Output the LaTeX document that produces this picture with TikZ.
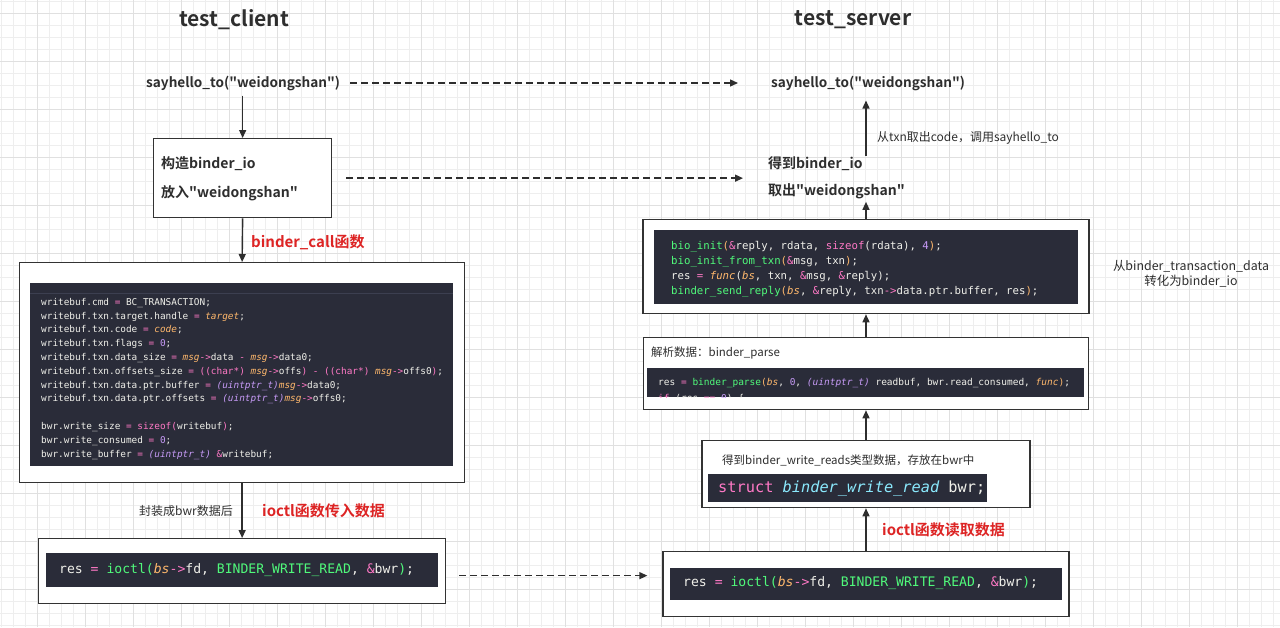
\documentclass[tikz,border=0pt]{standalone}
\usepackage{fontspec}
\setmainfont{Noto Sans CJK SC}[BoldFont={Noto Sans CJK SC Bold}, Ligatures=TeXOff]
\setmonofont{DejaVu Sans Mono}
\usetikzlibrary{arrows.meta,positioning,calc}

\definecolor{txt}{HTML}{2E2E2E}
\definecolor{boxline}{HTML}{333333}
\definecolor{redlab}{HTML}{DD2424}
\definecolor{gridminor}{HTML}{EEEEEE}
\definecolor{gridmajor}{HTML}{E0E0E0}
\definecolor{codebg}{HTML}{2A2C39}
\definecolor{codeline}{HTML}{3C3F50}
\definecolor{cfg}{HTML}{F0F0EA}
\definecolor{cpink}{HTML}{FF79C6}
\definecolor{corange}{HTML}{FFB86C}
\definecolor{cpurple}{HTML}{C79BF7}
\definecolor{ccyan}{HTML}{8BE9FD}
\definecolor{cgreen}{HTML}{50FA7B}

% code colouring
\newcommand\cop[1]{\textcolor{cpink}{#1}}
\newcommand\cvar[1]{\textcolor{corange}{\itshape #1}}
\newcommand\cpar[1]{\textcolor{corange}{#1}}
\newcommand\cnum[1]{\textcolor{cpurple}{#1}}
\newcommand\ccast[1]{\textcolor{cpurple}{\itshape #1}}
\newcommand\ctype[1]{\textcolor{ccyan}{\itshape #1}}
\newcommand\cfn[1]{\textcolor{cgreen}{#1}}

\begin{document}
\begin{tikzpicture}[x=1pt,y=-1pt,
    frame/.style={draw=boxline, line width=1.3pt, fill=white, inner sep=0pt},
    codebox/.style={fill=codebg, inner sep=0pt},
    code/.style={text=cfg, anchor=west, inner sep=0pt, align=left},
    title/.style={text=txt, font=\bfseries\fontsize{21}{24}\selectfont, inner sep=0pt},
    lbl/.style={text=txt, font=\bfseries\fontsize{13.6}{16}\selectfont, anchor=west, inner sep=0pt},
    small/.style={text=txt, font=\fontsize{12}{15}\selectfont, anchor=west, inner sep=0pt},
    redlbl/.style={text=redlab, font=\bfseries\fontsize{15}{18}\selectfont, anchor=west, inner sep=0pt},
    arr/.style={draw=txt, line width=1.4pt, -{Triangle[length=8pt,width=7pt]}},
    dasharr/.style={arr, dash pattern=on 7pt off 4pt}]

    % background and grid
    \fill[white] (0,0) rectangle (1280,627);
    \useasboundingbox (0,0) rectangle (1280,627);
    \foreach \i in {0,...,106} {
        \draw[gridminor, line width=0.7pt] (12*\i+1.5,0) -- (12*\i+1.5,627);
    }
    \foreach \j in {0,...,52} {
        \draw[gridminor, line width=0.7pt] (0,12*\j+1.5) -- (1280,12*\j+1.5);
    }
    \foreach \i in {0,...,26} {
        \draw[gridmajor, line width=0.8pt] (48*\i+37.5,0) -- (48*\i+37.5,627);
    }
    \foreach \j in {0,...,13} {
        \draw[gridmajor, line width=0.8pt] (0,48*\j+13.5) -- (1280,48*\j+13.5);
    }

    % titles
    \node[title] (client) at (234,20) {test\_client};
    \node[title] (server) at (853,20) {test\_server};

    % client side
    \node[lbl] (hellol) at (146,83) {sayhello\_to("weidongshan")};
    \node[frame, anchor=north west, minimum width=178pt, minimum height=79pt] (bio) at (153,138) {};
    \node[lbl, font=\bfseries\fontsize{14}{16}\selectfont] (mkio) at (161,164) {构造binder\_io};
    \node[lbl, font=\bfseries\fontsize{14}{16}\selectfont] (putin) at (161,193) {放入"weidongshan"};

    \node[frame, anchor=north west, minimum width=445pt, minimum height=220pt] (callbox) at (19,262) {};
    \node[codebox, anchor=north west, minimum width=423pt, minimum height=183pt] (callcode) at (30,283) {};
    \draw[codeline, line width=1pt] ([yshift=-10pt]callcode.north west) -- ([yshift=-10pt]callcode.north east);
    \node[code, anchor=north west, font=\ttfamily\fontsize{9.4}{13.8}\selectfont] (calltext) at (41,298) {%
        writebuf.cmd \cop{=} BC\_TRANSACTION;\\
        writebuf.txn.target.handle \cop{=} \cvar{target};\\
        writebuf.txn.code \cop{=} \cvar{code};\\
        writebuf.txn.flags \cop{=} \cnum{0};\\
        writebuf.txn.data\_size \cop{=} \cvar{msg}\cop{->}data \cop{-} \cvar{msg}\cop{->}data0;\\
        writebuf.txn.offsets\_size \cop{=} \cop{((char*)} \cvar{msg}\cop{->}offs\cop{)} \cop{-} \cop{((char*)} \cvar{msg}\cop{->}offs0\cop{)};\\
        writebuf.txn.data.ptr.buffer \cop{=} \ccast{(uintptr\_t)}\cvar{msg}\cop{->}data0;\\
        writebuf.txn.data.ptr.offsets \cop{=} \ccast{(uintptr\_t)}\cvar{msg}\cop{->}offs0;\\
        \mbox{}\\
        bwr.write\_size \cop{=} \cop{sizeof(}writebuf\cop{)};\\
        bwr.write\_consumed \cop{=} \cnum{0};\\
        bwr.write\_buffer \cop{=} \ccast{(uintptr\_t)} \cop{\&}writebuf;};

    \node[frame, anchor=north west, minimum width=407pt, minimum height=65pt] (wrbox) at (38,538) {};
    \node[codebox, anchor=north west, minimum width=392pt, minimum height=34pt] (wrcode) at (46,553) {};
    \node[code, font=\ttfamily\fontsize{13.1}{16}\selectfont] (wrtext) at (59,570)
        {res \cop{=} \cfn{ioctl(}\cvar{bs}\cop{->}fd, \cfn{BINDER\_WRITE\_READ}, \cop{\&}bwr\cfn{)};};

    % server side
    \node[lbl] (hellor) at (771,83) {sayhello\_to("weidongshan")};
    \node[lbl, font=\bfseries\fontsize{14}{16}\selectfont] (getio) at (768,164) {得到binder\_io};
    \node[lbl, font=\bfseries\fontsize{14}{16}\selectfont] (getout) at (768,191) {取出"weidongshan"};
    \node[small] (callhello) at (877,138) {从txn取出code，调用sayhello\_to};

    \node[frame, anchor=north, minimum width=446pt, minimum height=94pt] (sendbox) at (866,219) {};
    \node[codebox, minimum width=424pt, minimum height=74pt] (sendcode) at (sendbox.center) {};
    \node[code, anchor=north west, font=\ttfamily\fontsize{10.7}{15.2}\selectfont] (sendtext) at (671,241) {%
        \cfn{bio\_init}\cpar{(}\cop{\&}reply, rdata, \cop{sizeof}(rdata), \cnum{4}\cpar{)};\\
        \cfn{bio\_init\_from\_txn}\cpar{(}\cop{\&}msg, txn\cpar{)};\\
        res \cop{=} \cvar{func}(\cvar{bs}, txn, \cop{\&}msg, \cop{\&}reply);\\
        \cfn{binder\_send\_reply}\cpar{(}\cvar{bs}, \cop{\&}reply, txn\cop{->}data.ptr.buffer, res\cpar{)};};
    \node[small, font=\fontsize{12.4}{15}\selectfont, align=center, anchor=center] (convert) at (1191,274) {从binder\_transaction\_data\\转化为binder\_io};

    \node[frame, anchor=north, minimum width=445pt, minimum height=72pt] (parsebox) at (866,337) {};
    \node[small, font=\fontsize{11.5}{14}\selectfont] (parselbl) at (651,353) {解析数据：binder\_parse};
    \node[codebox, anchor=north west, minimum width=437pt, minimum height=29pt] (parsecode) at (647,368) {};
    \begin{scope}
        \clip (parsecode.north west) rectangle (parsecode.south east);
        \node[code, font=\ttfamily\fontsize{9.5}{13}\selectfont] (parsetext) at (658,383)
            {res \cop{=} \cfn{binder\_parse}\cpar{(}\cvar{bs}, \cnum{0}, \ccast{(uintptr\_t)} readbuf, bwr.read\_consumed, \cvar{func}\cpar{)};};
        \node[code, font=\ttfamily\fontsize{9.5}{13}\selectfont] (parsenext) at (658,399)
            {\cop{if} (res \cop{==} \cnum{0}) \{};
    \end{scope}

    \node[frame, anchor=north, minimum width=328pt, minimum height=67pt] (readsbox) at (866,440) {};
    \node[small, font=\fontsize{11.5}{14}\selectfont] (readslbl) at (722,460) {得到binder\_write\_reads类型数据，存放在bwr中};
    \node[codebox, anchor=north west, minimum width=279pt, minimum height=28pt] (readscode) at (708,474) {};
    \node[code, font=\ttfamily\fontsize{15.3}{18}\selectfont] (readstext) at (718,488)
        {\cop{struct} \ctype{binder\_write\_read} bwr;};

    \node[frame, anchor=north, minimum width=406pt, minimum height=65pt] (rdbox) at (866,551) {};
    \node[codebox, anchor=north west, minimum width=392pt, minimum height=32pt] (rdcode) at (670,568) {};
    \node[code, font=\ttfamily\fontsize{13.1}{16}\selectfont] (rdtext) at (683,583)
        {res \cop{=} \cfn{ioctl(}\cvar{bs}\cop{->}fd, \cfn{BINDER\_WRITE\_READ}, \cop{\&}bwr\cfn{)};};

    % labels on the arrows
    \node[redlbl] (calllbl) at (251,242) {binder\_call函数};
    \node[small, anchor=east] (packlbl) at (233,511) {封装成bwr数据后};
    \node[redlbl] (sendlbl) at (262,511) {ioctl函数传入数据};
    \node[redlbl] (recvlbl) at (882,530) {ioctl函数读取数据};

    % client arrows
    \draw[arr] ([yshift=-5pt]hellol.south -| bio.north) -- (bio.north);
    \draw[arr] (bio.south) -- (callbox.north);
    \draw[arr] (callbox.south) -- (wrbox.north);

    % dashed arrows across
    \draw[dasharr] ([xshift=10pt]hellol.east) -- ([xshift=-33pt]hellor.west);
    \draw[dasharr] ([xshift=14pt]bio.east) -- ([xshift=-25pt]bio.east -| getio.west);
    \draw[dasharr] ([xshift=13pt,yshift=-4.5pt]wrbox.east) -- ([xshift=-15pt,yshift=8.5pt]rdbox.west);

    % server arrows
    \draw[arr] (rdbox.north) -- (readsbox.south);
    \draw[arr] (readsbox.north) -- (parsebox.south);
    \draw[arr] (parsebox.north) -- (sendbox.south);
    \draw[arr] (sendbox.north) -- ([yshift=-3pt]sendbox.north |- getout.south);
    \draw[arr] ([yshift=1pt]getio.north -| sendbox.north) -- ([yshift=-10pt]hellor.south -| sendbox.north);
\end{tikzpicture}
\end{document}
